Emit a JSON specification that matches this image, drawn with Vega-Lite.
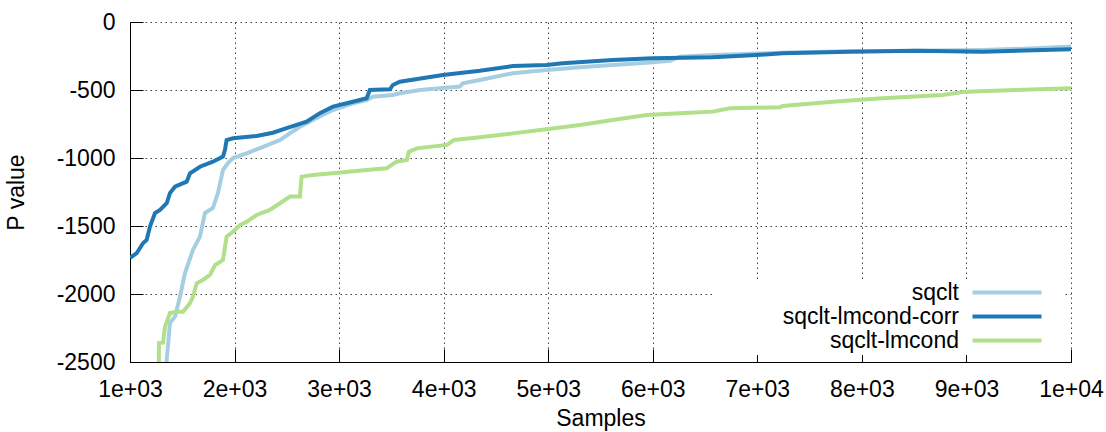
{
  "$schema": "https://vega.github.io/schema/vega-lite/v6.json",
  "width": 941,
  "height": 340,
  "autosize": "none",
  "padding": {"left": 130, "top": 22, "right": 35, "bottom": 70},
  "background": "white",
  "data": {"values": [
    {"s":"sqclt","x":1330,"y":-2700},{"s":"sqclt","x":1351,"y":-2485},{"s":"sqclt","x":1382,"y":-2213},{"s":"sqclt","x":1430,"y":-2167},{"s":"sqclt","x":1478,"y":-2020},{"s":"sqclt","x":1526,"y":-1846},{"s":"sqclt","x":1602,"y":-1676},{"s":"sqclt","x":1669,"y":-1578},{"s":"sqclt","x":1717,"y":-1405},{"s":"sqclt","x":1793,"y":-1368},{"s":"sqclt","x":1841,"y":-1258},{"s":"sqclt","x":1889,"y":-1088},{"s":"sqclt","x":1937,"y":-1037},{"s":"sqclt","x":1985,"y":-1000},{"s":"sqclt","x":2116,"y":-966},{"s":"sqclt","x":2243,"y":-927},{"s":"sqclt","x":2434,"y":-868},{"s":"sqclt","x":2530,"y":-818},{"s":"sqclt","x":2625,"y":-770},{"s":"sqclt","x":2785,"y":-706},{"s":"sqclt","x":2941,"y":-647},{"s":"sqclt","x":3132,"y":-598},{"s":"sqclt","x":3263,"y":-574},{"s":"sqclt","x":3323,"y":-549},{"s":"sqclt","x":3514,"y":-537},{"s":"sqclt","x":3581,"y":-524},{"s":"sqclt","x":3772,"y":-500},{"s":"sqclt","x":3964,"y":-488},{"s":"sqclt","x":4155,"y":-475},{"s":"sqclt","x":4183,"y":-451},{"s":"sqclt","x":4346,"y":-426},{"s":"sqclt","x":4661,"y":-377},{"s":"sqclt","x":4983,"y":-353},{"s":"sqclt","x":5302,"y":-333},{"s":"sqclt","x":5617,"y":-316},{"s":"sqclt","x":5940,"y":-299},{"s":"sqclt","x":6163,"y":-285},{"s":"sqclt","x":6258,"y":-255},{"s":"sqclt","x":6573,"y":-243},{"s":"sqclt","x":6895,"y":-235},{"s":"sqclt","x":7214,"y":-226},{"s":"sqclt","x":7883,"y":-215},{"s":"sqclt","x":8521,"y":-211},{"s":"sqclt","x":9154,"y":-205},{"s":"sqclt","x":9604,"y":-195},{"s":"sqclt","x":10000,"y":-181},
    {"s":"sqclt-lmcond-corr","x":1000,"y":-1735},{"s":"sqclt-lmcond-corr","x":1064,"y":-1700},{"s":"sqclt-lmcond-corr","x":1124,"y":-1627},{"s":"sqclt-lmcond-corr","x":1159,"y":-1603},{"s":"sqclt-lmcond-corr","x":1191,"y":-1505},{"s":"sqclt-lmcond-corr","x":1239,"y":-1405},{"s":"sqclt-lmcond-corr","x":1287,"y":-1382},{"s":"sqclt-lmcond-corr","x":1351,"y":-1333},{"s":"sqclt-lmcond-corr","x":1382,"y":-1258},{"s":"sqclt-lmcond-corr","x":1430,"y":-1211},{"s":"sqclt-lmcond-corr","x":1542,"y":-1174},{"s":"sqclt-lmcond-corr","x":1574,"y":-1112},{"s":"sqclt-lmcond-corr","x":1669,"y":-1064},{"s":"sqclt-lmcond-corr","x":1793,"y":-1027},{"s":"sqclt-lmcond-corr","x":1889,"y":-990},{"s":"sqclt-lmcond-corr","x":1908,"y":-941},{"s":"sqclt-lmcond-corr","x":1924,"y":-868},{"s":"sqclt-lmcond-corr","x":1985,"y":-855},{"s":"sqclt-lmcond-corr","x":2211,"y":-838},{"s":"sqclt-lmcond-corr","x":2367,"y":-814},{"s":"sqclt-lmcond-corr","x":2498,"y":-780},{"s":"sqclt-lmcond-corr","x":2689,"y":-733},{"s":"sqclt-lmcond-corr","x":2816,"y":-670},{"s":"sqclt-lmcond-corr","x":2941,"y":-622},{"s":"sqclt-lmcond-corr","x":3132,"y":-586},{"s":"sqclt-lmcond-corr","x":3263,"y":-561},{"s":"sqclt-lmcond-corr","x":3294,"y":-500},{"s":"sqclt-lmcond-corr","x":3486,"y":-495},{"s":"sqclt-lmcond-corr","x":3514,"y":-463},{"s":"sqclt-lmcond-corr","x":3581,"y":-439},{"s":"sqclt-lmcond-corr","x":3992,"y":-390},{"s":"sqclt-lmcond-corr","x":4346,"y":-358},{"s":"sqclt-lmcond-corr","x":4661,"y":-324},{"s":"sqclt-lmcond-corr","x":4983,"y":-316},{"s":"sqclt-lmcond-corr","x":5139,"y":-304},{"s":"sqclt-lmcond-corr","x":5617,"y":-279},{"s":"sqclt-lmcond-corr","x":5999,"y":-267},{"s":"sqclt-lmcond-corr","x":6573,"y":-260},{"s":"sqclt-lmcond-corr","x":6994,"y":-243},{"s":"sqclt-lmcond-corr","x":7242,"y":-230},{"s":"sqclt-lmcond-corr","x":7883,"y":-218},{"s":"sqclt-lmcond-corr","x":8521,"y":-211},{"s":"sqclt-lmcond-corr","x":9154,"y":-218},{"s":"sqclt-lmcond-corr","x":10000,"y":-201},
    {"s":"sqclt-lmcond","x":1275,"y":-2700},{"s":"sqclt-lmcond","x":1277,"y":-2361},{"s":"sqclt-lmcond","x":1315,"y":-2358},{"s":"sqclt-lmcond","x":1335,"y":-2240},{"s":"sqclt-lmcond","x":1382,"y":-2140},{"s":"sqclt-lmcond","x":1446,"y":-2130},{"s":"sqclt-lmcond","x":1507,"y":-2130},{"s":"sqclt-lmcond","x":1574,"y":-2067},{"s":"sqclt-lmcond","x":1602,"y":-2020},{"s":"sqclt-lmcond","x":1638,"y":-1921},{"s":"sqclt-lmcond","x":1697,"y":-1897},{"s":"sqclt-lmcond","x":1765,"y":-1860},{"s":"sqclt-lmcond","x":1813,"y":-1787},{"s":"sqclt-lmcond","x":1889,"y":-1750},{"s":"sqclt-lmcond","x":1924,"y":-1578},{"s":"sqclt-lmcond","x":1985,"y":-1542},{"s":"sqclt-lmcond","x":2052,"y":-1493},{"s":"sqclt-lmcond","x":2116,"y":-1468},{"s":"sqclt-lmcond","x":2211,"y":-1419},{"s":"sqclt-lmcond","x":2338,"y":-1382},{"s":"sqclt-lmcond","x":2434,"y":-1333},{"s":"sqclt-lmcond","x":2530,"y":-1284},{"s":"sqclt-lmcond","x":2625,"y":-1284},{"s":"sqclt-lmcond","x":2641,"y":-1137},{"s":"sqclt-lmcond","x":2749,"y":-1125},{"s":"sqclt-lmcond","x":2941,"y":-1112},{"s":"sqclt-lmcond","x":3263,"y":-1088},{"s":"sqclt-lmcond","x":3454,"y":-1076},{"s":"sqclt-lmcond","x":3549,"y":-1027},{"s":"sqclt-lmcond","x":3648,"y":-1015},{"s":"sqclt-lmcond","x":3667,"y":-953},{"s":"sqclt-lmcond","x":3744,"y":-929},{"s":"sqclt-lmcond","x":4031,"y":-904},{"s":"sqclt-lmcond","x":4098,"y":-868},{"s":"sqclt-lmcond","x":4346,"y":-848},{"s":"sqclt-lmcond","x":4661,"y":-819},{"s":"sqclt-lmcond","x":4983,"y":-789},{"s":"sqclt-lmcond","x":5302,"y":-757},{"s":"sqclt-lmcond","x":5617,"y":-721},{"s":"sqclt-lmcond","x":5940,"y":-684},{"s":"sqclt-lmcond","x":6258,"y":-671},{"s":"sqclt-lmcond","x":6573,"y":-659},{"s":"sqclt-lmcond","x":6736,"y":-635},{"s":"sqclt-lmcond","x":7214,"y":-627},{"s":"sqclt-lmcond","x":7242,"y":-618},{"s":"sqclt-lmcond","x":7720,"y":-586},{"s":"sqclt-lmcond","x":8198,"y":-561},{"s":"sqclt-lmcond","x":8771,"y":-537},{"s":"sqclt-lmcond","x":8998,"y":-512},{"s":"sqclt-lmcond","x":9476,"y":-500},{"s":"sqclt-lmcond","x":10000,"y":-488}
  ]},
  "mark": {"type": "line", "clip": true, "strokeWidth": 4},
  "encoding": {
    "x": {
      "field": "x", "type": "quantitative",
      "scale": {"domain": [1000, 10000], "nice": false, "zero": false},
      "axis": {
        "title": "Samples",
        "values": [1000,2000,3000,4000,5000,6000,7000,8000,9000,10000],
        "labelExpr": "datum.value == 10000 ? '1e+04' : (datum.value / 1000) + 'e+03'",
        "labelFontSize": 23, "titleFontSize": 23
      }
    },
    "y": {
      "field": "y", "type": "quantitative",
      "scale": {"domain": [-2500, 0], "nice": false, "zero": false},
      "axis": {
        "title": "P value",
        "values": [-2500,-2000,-1500,-1000,-500,0],
        "labelExpr": "'' + datum.value",
        "labelFontSize": 23, "titleFontSize": 23
      }
    },
    "color": {
      "field": "s", "type": "nominal",
      "sort": ["sqclt", "sqclt-lmcond-corr", "sqclt-lmcond"],
      "scale": {"domain": ["sqclt", "sqclt-lmcond-corr", "sqclt-lmcond"], "range": ["#a6cee3", "#1f78b4", "#b2df8a"]},
      "legend": {
        "orient": "none", "legendX": 585, "legendY": 257,
        "title": null
      }
    }
  },
  "config": {
    "font": "Liberation Sans",
    "view": {"stroke": null},
    "axis": {
      "labelFont": "Liberation Sans", "labelColor": "#000",
      "titleFont": "Liberation Sans", "titleFontWeight": "normal", "titleColor": "#000",
      "domainColor": "#000", "domainWidth": 1,
      "tickColor": "#000", "tickSize": -13, "tickWidth": 1,
      "grid": true, "gridColor": "#000", "gridOpacity": 0.75, "gridDash": [1.5, 3.5], "gridWidth": 1
    },
    "axisX": {"labelPadding": 29, "titlePadding": 6, "labelFlush": false},
    "axisY": {"labelPadding": 28, "titlePadding": 28, "labelFlush": false},
    "legend": {
      "fillColor": "white", "padding": 2,
      "symbolType": "M244,0H313M324,0", "symbolSize": 4, "symbolStrokeWidth": 4,
      "labelFont": "Liberation Sans", "labelFontSize": 23, "labelColor": "#000", "labelLimit": 0,
      "labelAlign": "right", "labelOffset": 219, "rowPadding": 0
    }
  }
}
